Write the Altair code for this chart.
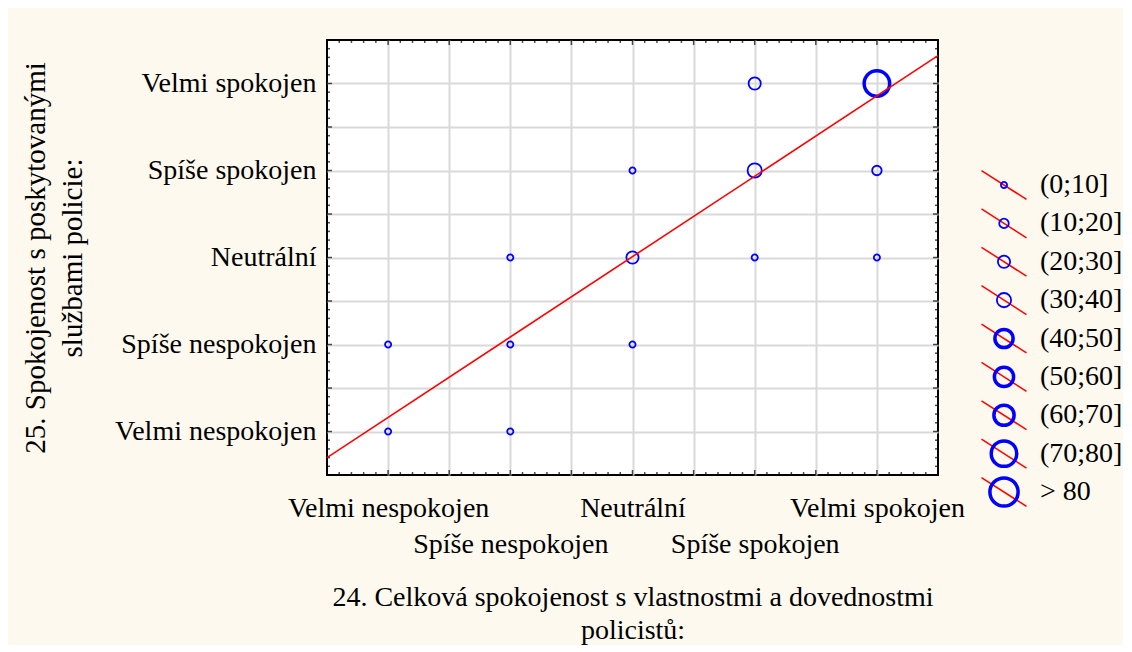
import altair as alt
import pandas as pd

# ---------------- data ----------------
levels = ["Velmi nespokojen", "Spíše nespokojen", "Neutrální", "Spíše spokojen", "Velmi spokojen"]
level_codes = [1, 2, 3, 4, 5]

classes = ["(0;10]", "(10;20]", "(20;30]", "(30;40]", "(40;50]", "(50;60]", "(60;70]", "(70;80]", "> 80"]

pt_x = [1, 2, 1, 2, 3, 2, 3, 4, 5, 3, 4, 5, 4, 5]
pt_y = [1, 1, 2, 2, 2, 3, 3, 3, 3, 4, 4, 4, 5, 5]
pt_class = ["(0;10]", "(0;10]", "(0;10]", "(0;10]", "(0;10]",
            "(0;10]", "(20;30]", "(0;10]", "(0;10]",
            "(0;10]", "(30;40]", "(10;20]",
            "(20;30]", "(70;80]"]

fit_x = [0.5, 5.5]
fit_y = [0.70, 5.32]

x_title = ["24. Celková spokojenost s vlastnostmi a dovednostmi", "policistů:"]
y_title = ["25. Spokojenost s poskytovanými", "službami policie:"]

# ---------------- styles ----------------
FONT = "Liberation Serif"
FS = 28
W, H = 611, 435
class_sizes = [38, 90, 149, 202, 331, 369, 408, 650, 795]
class_strokes = [1.8, 1.8, 1.8, 1.8, 3.5, 3.5, 3.5, 3.5, 3.5]
class_idx = list(range(len(classes)))

grid_vals = [1, 1.5, 2, 2.5, 3, 3.5, 4, 4.5, 5]
minor_vals = [round(0.5 + 0.1 * i, 1) for i in range(1, 50) if i % 5 != 0]

points = pd.DataFrame({"x": pt_x, "y": pt_y, "cls": pt_class,
                       "k": [classes.index(c) for c in pt_class]})
fit = pd.DataFrame({"x": fit_x, "y": fit_y})
major_x = pd.DataFrame({"x": grid_vals})
minor_x = pd.DataFrame({"x": minor_vals})
major_y = pd.DataFrame({"y": grid_vals})
minor_y = pd.DataFrame({"y": minor_vals})

def label_expr(offset_even):
    parts = []
    for code, name in zip(level_codes, levels):
        if offset_even and code % 2 == 0:
            parts.append(f"datum.value == {code} ? ['', '{name}']")
        else:
            parts.append(f"datum.value == {code} ? '{name}'")
    return " : ".join(parts) + " : ''"

x_axis = alt.Axis(values=grid_vals, labelExpr=label_expr(True), grid=True,
                  gridColor="#d9d9d9", gridWidth=2, ticks=False, domain=False,
                  labelFont=FONT, labelFontSize=FS, labelColor="black", labelAngle=0,
                  labelPadding=19, labelLineHeight=36, labelOverlap=False, labelFlush=False,
                  labelLimit=500,
                  title=x_title, titleFont=FONT, titleFontSize=FS, titleFontWeight="normal",
                  titleColor="black", titleLineHeight=33, titlePadding=25)
y_axis = alt.Axis(values=grid_vals, labelExpr=label_expr(False), grid=True,
                  gridColor="#d9d9d9", gridWidth=2, ticks=False, domain=False,
                  labelFont=FONT, labelFontSize=FS, labelColor="black",
                  labelPadding=11, labelOverlap=False, labelFlush=False, labelLimit=500,
                  title=y_title, titleFont=FONT, titleFontSize=29, titleFontWeight="normal",
                  titleColor="black", titleLineHeight=37, titlePadding=40)

xs = alt.Scale(domain=[0.5, 5.5], nice=False, zero=False)
ys = alt.Scale(domain=[0.5, 5.5], nice=False, zero=False)
xenc = alt.X("x:Q", scale=xs, axis=x_axis)
yenc = alt.Y("y:Q", scale=ys, axis=y_axis)

size_enc = alt.Size("k:Q", scale=alt.Scale(type="linear", domain=class_idx, range=class_sizes,
                                           zero=False, nice=False), legend=None)
sw_enc = alt.StrokeWidth("k:Q", scale=alt.Scale(type="linear", domain=class_idx, range=class_strokes,
                                                zero=False, nice=False), legend=None)

pts = alt.Chart(points).mark_point(shape="circle", filled=False, color="#0000ff", opacity=1).encode(
    x=xenc, y=yenc, size=size_enc, strokeWidth=sw_enc)
line = alt.Chart(fit).mark_line(color="#ff0000", strokeWidth=1.6, clip=True).encode(x=xenc, y=yenc)

def xticks(df, length):
    top = alt.Chart(df).mark_tick(color="black", size=2 * length, thickness=1.5, clip=True,
                                  orient="vertical").encode(x=xenc, y=alt.value(0))
    bot = alt.Chart(df).mark_tick(color="black", size=2 * length, thickness=1.5, clip=True,
                                  orient="vertical").encode(x=xenc, y=alt.value(H))
    return [top, bot]

def yticks(df, length):
    left = alt.Chart(df).mark_tick(color="black", size=2 * length, thickness=1.5, clip=True,
                                   orient="horizontal").encode(y=yenc, x=alt.value(0))
    right = alt.Chart(df).mark_tick(color="black", size=2 * length, thickness=1.5, clip=True,
                                    orient="horizontal").encode(y=yenc, x=alt.value(W))
    return [left, right]

tick_layers = xticks(major_x, 5) + xticks(minor_x, 3) + yticks(major_y, 5) + yticks(minor_y, 3)

main = alt.layer(pts, *tick_layers, line).properties(
    width=W, height=H,
    view=alt.ViewBackground(fill="white", stroke="black", strokeWidth=2))

# ---------------- legend panel ----------------
leg = pd.DataFrame({"cls": classes, "k": class_idx})
yleg = alt.Y("cls:N", scale=alt.Scale(type="point", domain=classes, range=[145, 452], padding=0), axis=None)
leg_line = alt.Chart(leg).mark_point(shape="M-1,-0.644L1,0.644", size=2025, color="#ff0000",
                                     strokeWidth=1.5, filled=False, opacity=1).encode(
    y=yleg, x=alt.value(36))
leg_pt = alt.Chart(leg).mark_point(shape="circle", filled=False, color="#0000ff", opacity=1).encode(
    y=yleg, x=alt.value(36), size=size_enc, strokeWidth=sw_enc)
leg_txt = alt.Chart(leg).mark_text(align="left", baseline="middle", font=FONT, fontSize=FS,
                                   color="black").encode(y=yleg, x=alt.value(72), text="cls:N")
legend = alt.layer(leg_line, leg_pt, leg_txt).properties(width=148, height=H)

chart = alt.hconcat(main, legend, spacing=30, bounds="flush").properties(
    background="#fdf9ef",
    padding={"left": 12, "top": 31, "right": 0, "bottom": 0},
).configure_view(strokeWidth=0)

chart.save("out.html", embed_options={"renderer": "svg", "actions": False})
